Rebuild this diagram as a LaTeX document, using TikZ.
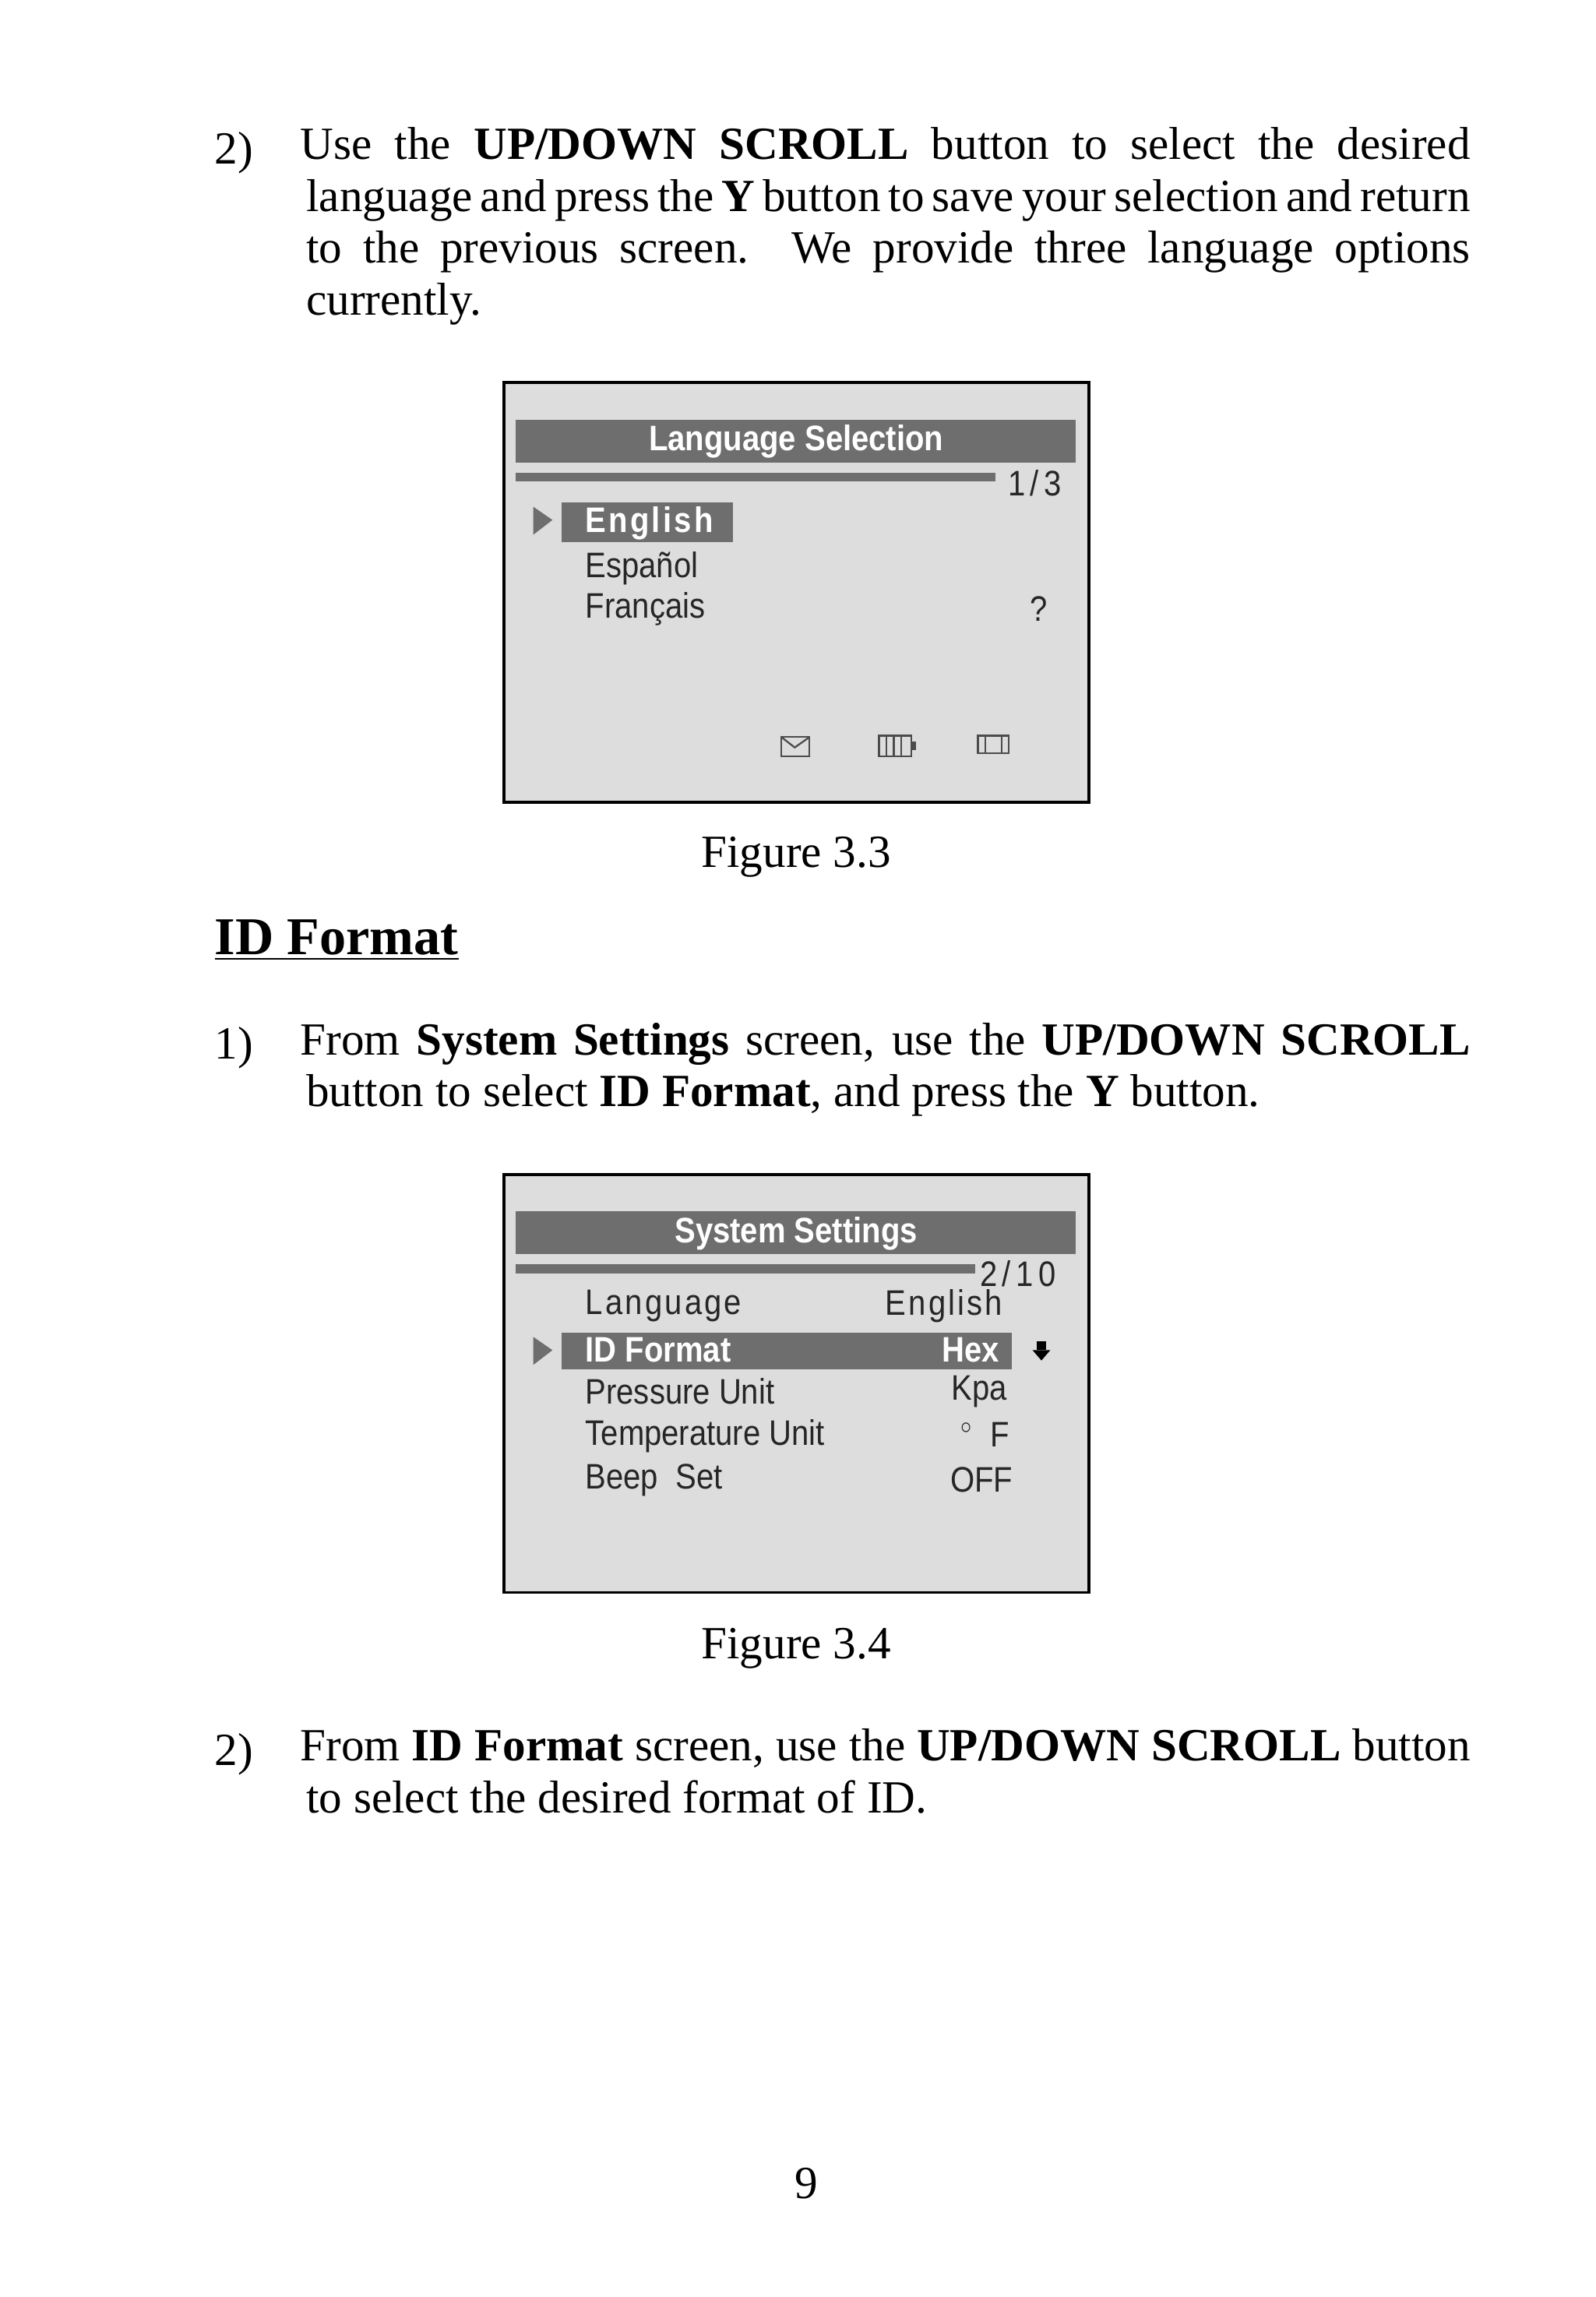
\documentclass[tikz,border=0pt]{standalone}
\usepackage{fontspec}
\setmainfont{Liberation Serif}
\newfontfamily\scr{Liberation Sans}
\newfontfamily\scrw[LetterSpace=8]{Liberation Sans}
\definecolor{lcd}{HTML}{DCDDDC}
\definecolor{bar}{HTML}{6E6E6E}
\hyphenpenalty=10000 \exhyphenpenalty=10000
\begin{document}
\begin{tikzpicture}[x=0.5pt,y=-0.5pt,
  body/.style={inner sep=0pt,font=\fontsize{15.6}{17.5}\selectfont},
  para/.style={body,anchor=north west,text width=394pt,align=justify},
  st/.style={inner sep=0pt,font=\scr\fontsize{12}{13}\selectfont,xscale=0.88},
  sw/.style={st,anchor=west,text=black!85},
  sb/.style={st,anchor=west,text=white,font=\scr\bfseries\fontsize{12}{13}\selectfont},
  screen/.style={draw=black,line width=1pt,fill=lcd},
  icon/.style={draw=black!70,line width=0.6pt}]
\useasboundingbox (0,0) rectangle (1080,1555);
% paragraph 1
\node[body,anchor=base west] (n1) at (145,111) {2)};
\node[para] (p1) at (207,86) {\hspace*{-2pt}Use the \textbf{UP/DOWN SCROLL} button to select the desired\linebreak language and press the \textbf{Y} button to save your selection and return\linebreak to the previous screen. We provide three language options\linebreak currently.};
% screen 1
\draw[screen] (341,259) rectangle (737,543);
\fill[bar] (349,284) rectangle (728,313);
\node[sb,anchor=center] (t1) at (539,299) {Language Selection};
\fill[bar] (349,320) rectangle (674,326);
\node[sw] (pg1) at (682,327) {1\,/\,3};
\fill[bar] (361,343) -- (374,352) -- (361,362) -- cycle;
\fill[bar] (380,340) rectangle (496,367);
\node[sb,font=\scrw\bfseries\fontsize{12}{13}\selectfont] (e1) at (396,354) {English};
\node[sw] (e2) at (396,385) {Español};
\node[sw] (e3) at (396,412) {Français};
\node[sw] (q) at (697,412) {?};
\foreach \yy/\n in {505/a,1035/b}{
 \draw[icon] (529,\yy-6) rectangle (548,\yy+7);
 \draw[icon] (529,\yy-6) -- (538,\yy+1) -- (548,\yy-6);
 \draw[icon] (595,\yy-7) rectangle (617,\yy+7);
 \foreach \xx in {600,605,610} \draw[icon] (\xx,\yy-7) -- (\xx,\yy+7);
 \fill[black!70] (617,\yy-3) rectangle (620,\yy+3);
 \draw[icon] (662,\yy-7) rectangle (683,\yy+5);
 \draw[icon] (667,\yy-7) -- (667,\yy+5) (678,\yy-7) -- (678,\yy+5);
}
\node[body] (f1) at (539,580) {Figure 3.3};
% heading
\node[inner sep=0pt,anchor=base west,font=\bfseries\fontsize{18}{20}\selectfont] (h) at (145,646) {\underline{ID Format}};
% paragraph 2
\node[body,anchor=base west] (n2) at (145,717) {1)};
\node[para] (p2) at (207,692) {\hspace*{-2pt}From \textbf{System Settings} screen, use the \textbf{UP/DOWN SCROLL} button to select \textbf{ID Format}, and press the \textbf{Y} button.};
% screen 2
\draw[screen] (341,795) rectangle (737,1078);
\fill[bar] (349,820) rectangle (728,849);
\node[sb,anchor=center] (t2) at (539,835) {System Settings};
\fill[bar] (349,856) rectangle (660,862);
\node[sw] (pg2) at (663,862) {2\,/\,1\,0};
\node[sw,font=\scrw\fontsize{12}{13}\selectfont] (r1) at (396,884) {Language};
\node[sw,font=\scrw\fontsize{12}{13}\selectfont] (v1) at (599,884) {English};
\fill[bar] (361,905) -- (374,914) -- (361,924) -- cycle;
\fill[bar] (380,902) rectangle (685,927);
\node[sb] (r2) at (396,914) {ID Format};
\node[sb,anchor=east] (v2) at (677,914) {Hex};
\fill[black] (702,908) rectangle (708,914);
\fill[black] (699,914) -- (711,914) -- (705,921) -- cycle;
\node[sw] (r3) at (396,942) {Pressure Unit};
\node[sw] (v3) at (644,942) {Kpa};
\node[sw] (r4) at (396,972) {Temperature Unit};
\node[sw] (v4) at (650,971) {$^{\circ}$\ \ F};
\node[sw] (r5) at (396,1002) {Beep\ \ Set};
\node[sw] (v5) at (643,1002) {OFF};
\node[body] (f2) at (539,1116) {Figure 3.4};
% paragraph 3
\node[body,anchor=base west] (n3) at (145,1195) {2)};
\node[para] (p3) at (207,1170) {\hspace*{-2pt}From \textbf{ID Format} screen, use the \textbf{UP/DOWN SCROLL} button to select the desired format of ID.};
\node[body] (pn) at (546,1478) {9};
\end{tikzpicture}
\end{document}
